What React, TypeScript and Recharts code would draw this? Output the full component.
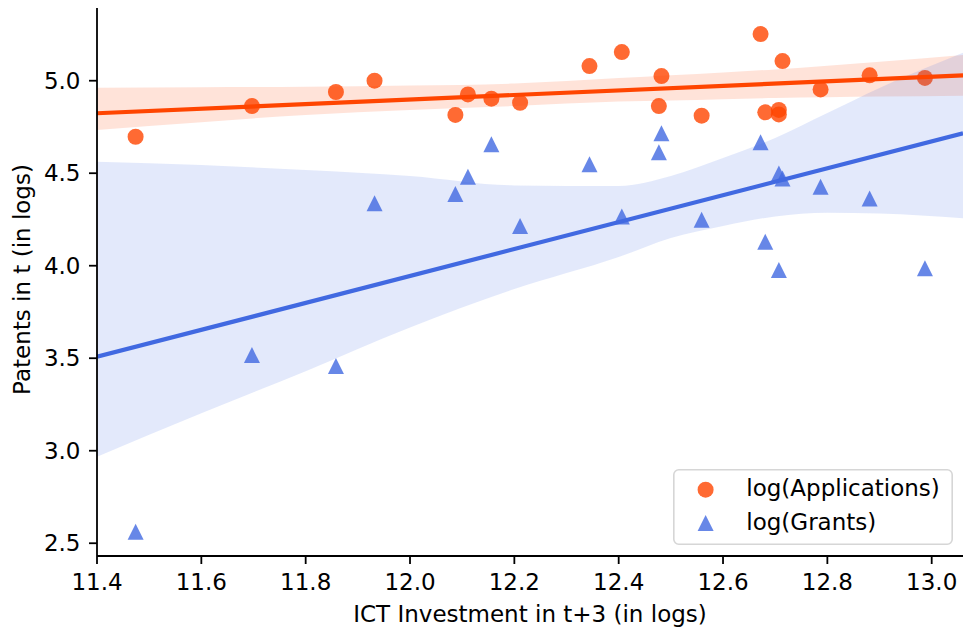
import { ComposedChart, Scatter, Line, Area, XAxis, YAxis, Legend } from 'recharts';

document.body.style.margin = '0';

const FONT = '"DejaVu Sans", sans-serif';
const FONT_SIZE = 23;
const ORANGE = '#FF4500';
const BLUE = '#4169E1';

// ICT investment in t+3 (logs), one entry per observation
const ictInvestment = [
  11.474, 11.697, 11.858, 11.932, 12.087, 12.111, 12.156, 12.211, 12.344, 12.406, 12.477,
  12.482, 12.559, 12.672, 12.681, 12.707, 12.707, 12.714, 12.787, 12.881, 12.987,
];
const logApplications = [
  4.697, 4.863, 4.939, 5.0, 4.815, 4.926, 4.903, 4.881, 5.079, 5.155, 4.863,
  5.025, 4.811, 5.252, 4.829, 4.842, 4.818, 5.106, 4.953, 5.029, 5.015,
];
const logGrants = [
  2.562, 3.517, 3.458, 4.337, 4.387, 4.481, 4.656, 4.215, 4.548, 4.266, 4.613,
  4.716, 4.249, 4.667, 4.13, 4.499, 3.977, 4.472, 4.427, 4.364, 3.986,
];

// fitted regression lines (end points)
const fitX = [11.4, 13.06];
const fitApplications = [4.824, 5.029];
const fitGrants = [3.508, 4.716];

// 95% confidence bands
const bandX = [11.4, 11.6, 11.8, 12.0, 12.2, 12.4, 12.5, 12.6, 12.7, 12.8, 12.9, 13.06];
const appLow = [4.734, 4.776, 4.815, 4.842, 4.863, 4.887, 4.893, 4.9, 4.906, 4.91, 4.914, 4.919];
const appHigh = [4.962, 4.965, 4.968, 4.974, 4.985, 5.014, 5.03, 5.045, 5.061, 5.081, 5.102, 5.139];
const grantLow = [2.968, 3.202, 3.43, 3.666, 3.874, 4.047, 4.15, 4.215, 4.266, 4.286, 4.282, 4.256];
const grantHigh = [4.562, 4.544, 4.517, 4.485, 4.434, 4.431, 4.485, 4.582, 4.69, 4.825, 4.961, 5.151];

const xTicks = [11.4, 11.6, 11.8, 12.0, 12.2, 12.4, 12.6, 12.8, 13.0];
const yTicks = [2.5, 3.0, 3.5, 4.0, 4.5, 5.0];

const appPoints = ictInvestment.map((x, i) => ({ x, y: logApplications[i] }));
const grantPoints = ictInvestment.map((x, i) => ({ x, y: logGrants[i] }));
const appFit = fitX.map((x, i) => ({ x, y: fitApplications[i] }));
const grantFit = fitX.map((x, i) => ({ x, y: fitGrants[i] }));
const appBand = bandX.map((x, i) => ({ x, band: [appLow[i], appHigh[i]] }));
const grantBand = bandX.map((x, i) => ({ x, band: [grantLow[i], grantHigh[i]] }));

const Dot = (props: any) => (
  <circle cx={props.cx} cy={props.cy} r={8} fill={ORANGE} fillOpacity={0.8} />
);

const Tri = (props: any) => {
  const { cx, cy } = props;
  return (
    <polygon
      points={`${cx},${cy - 8} ${cx - 8},${cy + 8} ${cx + 8},${cy + 8}`}
      fill={BLUE}
      fillOpacity={0.8}
    />
  );
};

const YLabel = ({ viewBox }: any) => {
  const cx = 29.5;
  const cy = viewBox.y + viewBox.height / 2 - 2.5;
  return (
    <text
      x={cx}
      y={cy}
      transform={`rotate(-90 ${cx} ${cy})`}
      textAnchor="middle"
      fontFamily={FONT}
      fontSize={FONT_SIZE}
      fill="#000"
    >
      Patents in t (in logs)
    </text>
  );
};

const XLabel = ({ viewBox }: any) => (
  <text
    x={viewBox.x + viewBox.width / 2}
    y={622}
    textAnchor="middle"
    fontFamily={FONT}
    fontSize={FONT_SIZE}
    fill="#000"
  >
    ICT Investment in t+3 (in logs)
  </text>
);

const LegendBox = () => (
  <svg width={280} height={76} style={{ display: 'block' }}>
    <rect
      x={0.8}
      y={0.8}
      width={278.4}
      height={74.4}
      rx={5}
      fill="#fff"
      fillOpacity={0.8}
      stroke="#d6d6d6"
      strokeWidth={1.6}
    />
    <circle cx={32.6} cy={20.7} r={8} fill={ORANGE} fillOpacity={0.8} />
    <text x={73.3} y={27.4} fontFamily={FONT} fontSize={FONT_SIZE} fill="#000">
      log(Applications)
    </text>
    <polygon points="32.6,46 24.6,62 40.6,62" fill={BLUE} fillOpacity={0.8} />
    <text x={73.3} y={60.7} fontFamily={FONT} fontSize={FONT_SIZE} fill="#000">
      log(Grants)
    </text>
  </svg>
);

export default function App() {
  return (
    <div style={{ position: 'absolute', left: 0, top: 0, background: '#fff' }}>
      <ComposedChart width={967} height={631} margin={{ top: 8, right: 4, bottom: 0, left: 0 }}>
        <XAxis
          type="number"
          dataKey="x"
          domain={[11.4, 13.06]}
          ticks={xTicks}
          allowDataOverflow
          height={75}
          tickSize={8}
          tickMargin={10}
          tickFormatter={(v: number) => v.toFixed(1)}
          stroke="#000"
          strokeWidth={1.8}
          tick={{ fill: '#000', fontSize: FONT_SIZE, fontFamily: FONT }}
          label={<XLabel />}
        />
        <YAxis
          type="number"
          dataKey="y"
          domain={[2.431, 5.393]}
          ticks={yTicks}
          allowDataOverflow
          width={97}
          tickSize={8}
          tickMargin={8.5}
          tickFormatter={(v: number) => v.toFixed(1)}
          stroke="#000"
          strokeWidth={1.8}
          tick={{ fill: '#000', fontSize: FONT_SIZE, fontFamily: FONT }}
          label={<YLabel />}
        />
        <Scatter data={appPoints} dataKey="y" shape={<Dot />} isAnimationActive={false} zIndex={100} />
        <Area
          data={appBand}
          dataKey="band"
          type="monotone"
          stroke="none"
          fill={ORANGE}
          fillOpacity={0.15}
          isAnimationActive={false}
          zIndex={101}
        />
        <Scatter data={grantPoints} dataKey="y" shape={<Tri />} isAnimationActive={false} zIndex={102} />
        <Area
          data={grantBand}
          dataKey="band"
          type="monotone"
          stroke="none"
          fill={BLUE}
          fillOpacity={0.15}
          isAnimationActive={false}
          zIndex={103}
        />
        <Line
          data={appFit}
          dataKey="y"
          type="linear"
          stroke={ORANGE}
          strokeWidth={4.2}
          dot={false}
          activeDot={false}
          isAnimationActive={false}
          zIndex={104}
        />
        <Line
          data={grantFit}
          dataKey="y"
          type="linear"
          stroke={BLUE}
          strokeWidth={4.2}
          dot={false}
          activeDot={false}
          isAnimationActive={false}
          zIndex={105}
        />
        <Legend
          layout="horizontal"
          verticalAlign="middle"
          align="center"
          content={<LegendBox />}
          wrapperStyle={{ left: 673, top: 469, width: 280, height: 76 }}
        />
      </ComposedChart>
    </div>
  );
}
